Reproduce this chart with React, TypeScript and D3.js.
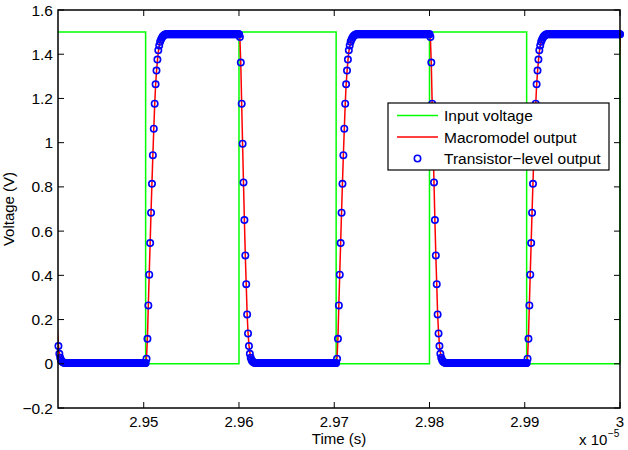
import * as d3 from 'd3';

// time axis is in units of 1e-5 s
const xDomain: [number, number] = [2.941, 3.0];
const yDomain: [number, number] = [-0.2, 1.6];
const xTicks = [2.95, 2.96, 2.97, 2.98, 2.99, 3.0];
const yTicks = [-0.2, 0, 0.2, 0.4, 0.6, 0.8, 1, 1.2, 1.4, 1.6];

// input square wave edges
const inputRiseTimes = [2.94, 2.96, 2.98, 3.0];
const inputFallTimes = [2.9502, 2.9702, 2.9902];
const inputHigh = 1.5;
const inputLow = 0;

// simulator time step (~0.95 ns)
const sampleStep = 0.000095;

// transistor-level output samples on each edge
const trRise = [0.003, 0.023, 0.113, 0.264, 0.403, 0.546, 0.683, 0.814, 0.943, 1.063, 1.176, 1.264, 1.326, 1.376, 1.418, 1.44, 1.456, 1.467, 1.475, 1.481, 1.485, 1.488, 1.49];
const trFall = [1.49, 1.478, 1.362, 1.176, 0.995, 0.82, 0.65, 0.49, 0.36, 0.223, 0.137, 0.08, 0.045, 0.027, 0.016, 0.01, 0.007, 0.005, 0.003];
// macromodel output samples on each edge
const mmRise = [0.003, 0.03, 0.12, 0.27, 0.41, 0.55, 0.69, 0.82, 0.945, 1.06, 1.17, 1.26, 1.32, 1.37, 1.41, 1.435, 1.455, 1.467, 1.476, 1.482, 1.486, 1.489, 1.49];
const mmFall = [1.49, 1.475, 1.355, 1.17, 0.99, 0.815, 0.645, 0.49, 0.36, 0.225, 0.14, 0.085, 0.05, 0.03, 0.018, 0.011, 0.007, 0.005, 0.003];
const outHigh = 1.49;
const outLow = 0.003;

const legendLabels = ['Input voltage', 'Macromodel output', 'Transistor\u2212level output'];

const W = 628;
const H = 450;
const margin = { left: 58, right: 8, top: 10, bottom: 42 };
const FONT = 'Liberation Sans, Arial, Helvetica, sans-serif';

type Pt = { t: number; v: number };

function buildInput(): Pt[] {
  const edges = [
    ...inputRiseTimes.map(t => ({ t, up: true })),
    ...inputFallTimes.map(t => ({ t, up: false })),
  ].sort((a, b) => a.t - b.t);
  const pts: Pt[] = [{ t: edges[0].t, v: inputLow }];
  edges.forEach(e => {
    pts.push({ t: e.t, v: e.up ? inputLow : inputHigh });
    pts.push({ t: e.t, v: e.up ? inputHigh : inputLow });
  });
  return pts;
}

function buildOutput(rise: number[], fall: number[]): Pt[] {
  // input rising -> output falls, input falling -> output rises
  const edges = [
    ...inputRiseTimes.map(t => ({ t, vals: fall, level: outLow })),
    ...inputFallTimes.map(t => ({ t, vals: rise, level: outHigh })),
  ].sort((a, b) => a.t - b.t);
  const pts: Pt[] = [];
  edges.forEach((e, k) => {
    const next = k < edges.length - 1 ? edges[k + 1].t : xDomain[1] + sampleStep;
    e.vals.forEach((v, i) => pts.push({ t: e.t + i * sampleStep, v }));
    for (let t = e.t + e.vals.length * sampleStep; t < next; t += sampleStep) {
      pts.push({ t, v: e.level });
    }
  });
  return pts;
}

const inputData = buildInput();
const macroData = buildOutput(mmRise, mmFall);
const transData = buildOutput(trRise, trFall);

export default function App() {
  const x = d3.scaleLinear().domain(xDomain).range([margin.left, W - margin.right]);
  const y = d3.scaleLinear().domain(yDomain).range([H - margin.bottom, margin.top]);
  const line = d3.line<Pt>().x(d => x(d.t)).y(d => y(d.v));

  const x0 = x.range()[0];
  const x1 = x.range()[1];
  const y0 = y.range()[0];
  const y1 = y.range()[1];
  const tickLen = 6;

  const circles = transData.filter(d => d.t >= xDomain[0] && d.t <= xDomain[1]);
  const fmtY = (v: number) => d3.format('~g')(v).replace('-', '\u2212');
  const fmtX = (v: number) => String(+v.toFixed(2));

  const legX = 388;
  const legY = 103;
  const legRows = [115.5, 137, 158.5];

  return (
    <svg width={W} height={H} style={{ position: 'absolute', left: 0, top: 0, background: '#fff' }} fontFamily={FONT}>
      <defs>
        <clipPath id="plotClip">
          <rect x={x0} y={y1} width={x1 - x0 + 1} height={y0 - y1} />
        </clipPath>
      </defs>
      <rect x={0} y={0} width={W} height={H} fill="#fff" />

      <g clipPath="url(#plotClip)">
        <path d={line(inputData) || ''} fill="none" stroke="#00ff00" strokeWidth={1.5} />
        <path d={line(macroData) || ''} fill="none" stroke="#ff0000" strokeWidth={1.5} />
      </g>
      <g>
        {circles.map((d, i) => (
          <circle key={i} cx={x(d.t)} cy={y(d.v)} r={3.2} fill="none" stroke="#0000ff" strokeWidth={1.6} />
        ))}
      </g>

      {/* axes box and ticks */}
      <rect x={x0} y={y1} width={x1 - x0} height={y0 - y1} fill="none" stroke="#000" strokeWidth={1.5} />
      {xTicks.map(t => (
        <g key={'x' + t}>
          <line x1={x(t)} x2={x(t)} y1={y0} y2={y0 - tickLen} stroke="#000" strokeWidth={1} />
          <line x1={x(t)} x2={x(t)} y1={y1} y2={y1 + tickLen} stroke="#000" strokeWidth={1} />
          <text x={x(t)} y={427} textAnchor="middle" fontSize={15} fill="#000">{fmtX(t)}</text>
        </g>
      ))}
      {yTicks.map(v => (
        <g key={'y' + v}>
          <line x1={x0} x2={x0 + tickLen} y1={y(v)} y2={y(v)} stroke="#000" strokeWidth={1} />
          <line x1={x1} x2={x1 - tickLen} y1={y(v)} y2={y(v)} stroke="#000" strokeWidth={1} />
          <text x={53} y={y(v)} dy="0.36em" textAnchor="end" fontSize={15.5} fill="#000">{fmtY(v)}</text>
        </g>
      ))}

      <text x={(x0 + x1) / 2} y={444} textAnchor="middle" fontSize={15} fill="#000">Time (s)</text>
      <text transform={`translate(14,${(y0 + y1) / 2}) rotate(-90)`} textAnchor="middle" fontSize={15} fill="#000">Voltage (V)</text>
      <text x={579} y={445} fontSize={15} fill="#000">x 10</text>
      <text x={608} y={437} fontSize={10} fill="#000">{'\u22125'}</text>

      {/* legend */}
      <rect x={legX} y={legY} width={221} height={67} fill="#fff" stroke="#000" strokeWidth={1.2} />
      <line x1={397} x2={438} y1={legRows[0]} y2={legRows[0]} stroke="#00ff00" strokeWidth={1.5} />
      <line x1={397} x2={438} y1={legRows[1]} y2={legRows[1]} stroke="#ff0000" strokeWidth={1.5} />
      <circle cx={417.5} cy={legRows[2]} r={3.2} fill="none" stroke="#0000ff" strokeWidth={1.6} />
      {legendLabels.map((s, i) => (
        <text key={s} x={444} y={legRows[i]} dy="0.36em" fontSize={15.5} fill="#000">{s}</text>
      ))}
    </svg>
  );
}
